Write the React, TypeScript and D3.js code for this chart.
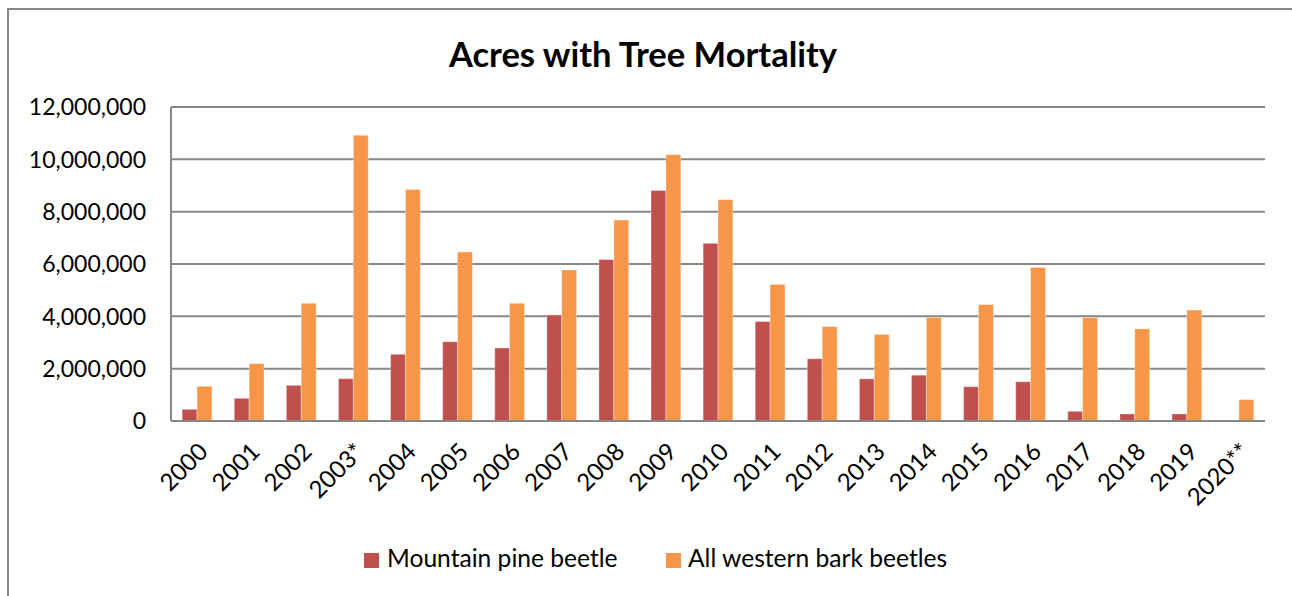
import React from "react";
import * as d3 from "d3";

const years = ["2000","2001","2002","2003*","2004","2005","2006","2007","2008","2009","2010","2011","2012","2013","2014","2015","2016","2017","2018","2019","2020**"];
const mountainPine = [447000, 867000, 1364000, 1617000, 2550000, 3030000, 2790000, 4050000, 6170000, 8810000, 6790000, 3800000, 2380000, 1610000, 1750000, 1310000, 1500000, 370000, 270000, 270000, 0];
const allWestern = [1326000, 2190000, 4500000, 10920000, 8850000, 6460000, 4500000, 5770000, 7680000, 10180000, 8460000, 5220000, 3610000, 3310000, 3960000, 4450000, 5870000, 3950000, 3520000, 4240000, 820000];
const yTicks = [0, 2000000, 4000000, 6000000, 8000000, 10000000, 12000000];
const seriesNames = ["Mountain pine beetle", "All western bark beetles"];
const colors = ["#C0504D", "#F79646"];

const FONT = "Lato, 'Open Sans', sans-serif";

export default function App() {
  const left = 171, right = 1265, top = 107, bottom = 421;
  const x = d3.scaleBand<string>().domain(years).range([left, right]).paddingInner(0.4286).paddingOuter(0.2143);
  const xs = d3.scaleBand<number>().domain([0, 1]).range([0, x.bandwidth()]);
  const y = d3.scaleLinear().domain([0, 12000000]).range([bottom, top]);
  const fmt = d3.format(",");
  const series = [mountainPine, allWestern];
  const grid = "#878787";

  return (
    <svg width={1292} height={596} style={{ position: "absolute", left: 0, top: 0 }} fontFamily={FONT}>
      <rect x={0} y={0} width={1292} height={596} fill="#fff" />
      <rect x={8} y={9} width={1320} height={640} fill="none" stroke={grid} strokeWidth={2} />
      <text x={643} y={67} textAnchor="middle" fontSize={34.5} fontWeight={700} fill="#000">Acres with Tree Mortality</text>
      {yTicks.map((t) => (
        <g key={t}>
          {t > 0 && <line x1={left} x2={right} y1={y(t)} y2={y(t)} stroke={grid} strokeWidth={2} />}
          <text x={146} y={y(t)} dy="0.36em" textAnchor="end" fontSize={23} fill="#000">{fmt(t)}</text>
        </g>
      ))}
      {series.map((vals, si) => (
        <g key={si}>
          {vals.map((v, i) => (
            v > 0 ? (
              <rect key={i} x={(x(years[i]) as number) + (xs(si) as number)} y={y(v)} width={xs.bandwidth()} height={y(0) - y(v)} fill={colors[si]} stroke="#ffffff" strokeOpacity={0.35} strokeWidth={1} />
            ) : null
          ))}
        </g>
      ))}
      <line x1={left} x2={left} y1={top} y2={bottom} stroke={grid} strokeWidth={2} />
      <line x1={left} x2={right} y1={bottom} y2={bottom} stroke={grid} strokeWidth={2} />
      {years.map((yr) => {
        const cx = (x(yr) as number) + x.bandwidth() / 2;
        return (
          <text key={yr} transform={`translate(${cx},${441}) rotate(-45)`} textAnchor="end" dy="0.72em" fontSize={24} fill="#000">{yr}</text>
        );
      })}
      <rect x={364} y={553} width={15} height={15} fill={colors[0]} />
      <text x={387} y={567} fontSize={24.6} fill="#000">{seriesNames[0]}</text>
      <rect x={666} y={553} width={15} height={15} fill={colors[1]} />
      <text x={688} y={567} fontSize={24.6} fill="#000">{seriesNames[1]}</text>
    </svg>
  );
}
